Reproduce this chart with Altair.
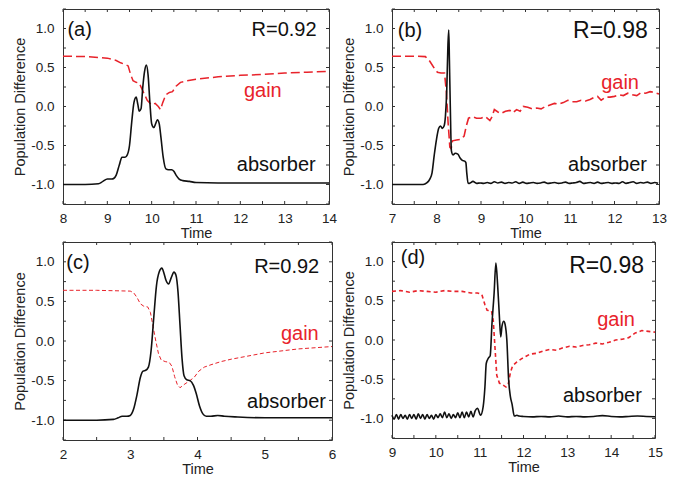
import altair as alt
import pandas as pd

RED = "#e8232b"
FONT = "Liberation Sans"
INK = "#111111"

# ---------------- Panel (a) ----------------
a_abs_t = [8.0, 8.5, 8.8, 8.9, 9.0, 9.1, 9.15, 9.2, 9.27, 9.33, 9.4, 9.45, 9.5, 9.55, 9.6, 9.65,
           9.69, 9.72, 9.76, 9.8, 9.84, 9.88, 9.92, 9.96, 10.0, 10.05, 10.09, 10.13, 10.17, 10.21,
           10.26, 10.32, 10.38, 10.45, 10.5, 10.55, 10.62, 10.7, 10.85, 11.0, 11.5, 12.0, 13.0, 14.0]
a_abs_v = [-1.0, -1.0, -0.99, -0.96, -0.93, -0.93, -0.92, -0.88, -0.75, -0.65, -0.65, -0.62, -0.5,
           -0.2, 0.05, 0.12, 0.02, -0.06, -0.03, 0.25, 0.45, 0.53, 0.4, 0.05, -0.22, -0.27, -0.22,
           -0.17, -0.22, -0.40, -0.65, -0.80, -0.81, -0.81, -0.83, -0.88, -0.93, -0.95, -0.96,
           -0.975, -0.98, -0.98, -0.98, -0.98]
a_gain_t = [8.0, 8.5, 9.0, 9.2, 9.3, 9.4, 9.47, 9.52, 9.58, 9.65, 9.72, 9.8, 9.9, 10.0, 10.08,
            10.15, 10.2, 10.25, 10.32, 10.4, 10.47, 10.55, 10.65, 10.8, 11.0, 11.5, 12.0, 12.5,
            13.0, 13.5, 14.0]
a_gain_v = [0.645, 0.64, 0.62, 0.59, 0.56, 0.54, 0.52, 0.42, 0.33, 0.31, 0.30, 0.20, 0.08, 0.02,
            0.04, 0.0, -0.04, 0.05, 0.15, 0.18, 0.19, 0.26, 0.31, 0.33, 0.35, 0.38, 0.40, 0.41,
            0.43, 0.44, 0.45]

# ---------------- Panel (b) ----------------
b_abs_t = [7.0, 7.7, 7.78, 7.85, 7.9, 7.95, 8.0, 8.05, 8.09, 8.13, 8.17, 8.2, 8.23, 8.255, 8.275,
           8.29, 8.31, 8.335, 8.37, 8.42, 8.48, 8.53, 8.58, 8.63, 8.66, 8.68, 8.71,
           8.74, 8.82, 8.90, 8.98, 9.06, 9.14, 9.22, 9.30, 9.38, 9.46, 9.54, 9.62, 9.70, 9.78,
           9.86, 9.94, 10.02, 10.10, 10.18, 10.26, 10.34, 10.42, 10.50, 10.58, 10.66, 10.74,
           10.82, 10.90, 10.98, 11.06, 11.14, 11.22, 11.30, 11.38, 11.46, 11.54, 11.62, 11.70,
           11.78, 11.86, 11.94, 12.02, 12.10, 12.18, 12.26, 12.34, 12.42, 12.50, 12.58, 12.66,
           12.74, 12.82, 12.90, 12.98]
b_abs_v = [-1.0, -1.0, -0.98, -0.93, -0.85, -0.62, -0.42, -0.28, -0.25, -0.28, -0.25, -0.13, 0.2,
           0.75, 0.98, 0.6, 0.0, -0.57, -0.62, -0.60, -0.61, -0.66, -0.69, -0.70, -0.72, -0.85,
           -0.98,
           -0.985, -0.96, -0.985, -0.98, -0.985, -0.975, -0.985, -0.965, -0.98, -0.97, -0.985,
           -0.975, -0.98, -0.965, -0.985, -0.97, -0.985, -0.98, -0.975, -0.985, -0.98, -0.97,
           -0.985, -0.98, -0.975, -0.985, -0.98, -0.97, -0.985, -0.98, -0.975, -0.96, -0.985,
           -0.98, -0.975, -0.985, -0.97, -0.985, -0.98, -0.975, -0.985, -0.98, -0.985, -0.965,
           -0.985, -0.975, -0.965, -0.985, -0.975, -0.98, -0.97, -0.985, -0.975, -0.985]
b_gain_t = [7.0, 7.5, 7.75, 7.85, 7.95, 8.02, 8.1, 8.18, 8.22, 8.26, 8.3, 8.33, 8.36, 8.45, 8.55,
            8.62, 8.67, 8.72, 8.8, 8.9, 9.0, 9.1, 9.2, 9.25, 9.3, 9.38, 9.45, 9.55, 9.65, 9.72,
            9.8, 9.88, 9.95, 10.05, 10.15, 10.25, 10.35, 10.45, 10.55, 10.65, 10.75, 10.85,
            10.95, 11.05, 11.15, 11.25, 11.35, 11.45, 11.55, 11.62, 11.7, 11.8, 11.9, 12.0,
            12.1, 12.2, 12.3, 12.4, 12.5, 12.6, 12.7, 12.8, 12.9, 13.0]
b_gain_v = [0.645, 0.645, 0.64, 0.58, 0.49, 0.44, 0.43, 0.43, 0.2, -0.2, -0.52, -0.54, -0.44,
            -0.43, -0.42, -0.38, -0.25, -0.15, -0.13, -0.15, -0.15, -0.13, -0.18, -0.13, -0.04,
            -0.07, -0.09, -0.06, -0.05, -0.08, -0.04, -0.06, 0.0, -0.01, -0.03, -0.02, -0.03,
            0.0, 0.02, 0.04, 0.03, 0.05, 0.08, 0.06, 0.06, 0.08, 0.07, 0.09, 0.12, 0.13, 0.08,
            0.12, 0.12, 0.13, 0.15, 0.14, 0.17, 0.15, 0.14, 0.18, 0.17, 0.19, 0.18, 0.16]

# ---------------- Panel (c) ----------------
c_abs_t = [2.0, 2.5, 2.75, 2.82, 2.88, 2.95, 3.0, 3.05, 3.1, 3.15, 3.19, 3.23, 3.27, 3.31, 3.35,
           3.39, 3.43, 3.47, 3.5, 3.53, 3.57, 3.61, 3.65, 3.68, 3.71, 3.74, 3.77, 3.8, 3.84,
           3.89, 3.94, 3.98, 4.03, 4.08, 4.13, 4.2, 4.3, 4.4, 4.6, 5.0, 5.5, 6.0]
c_abs_v = [-1.0, -1.0, -0.99, -0.97, -0.95, -0.95, -0.94, -0.86, -0.68, -0.46, -0.38, -0.37,
           -0.33, -0.12, 0.30, 0.70, 0.87, 0.92, 0.86, 0.77, 0.72, 0.80, 0.87, 0.83, 0.62, 0.20,
           -0.22, -0.44, -0.49, -0.50, -0.56, -0.66, -0.82, -0.92, -0.95, -0.95, -0.94, -0.95,
           -0.96, -0.97, -0.97, -0.97]
c_gain_t = [2.0, 2.5, 3.0, 3.05, 3.1, 3.15, 3.2, 3.26, 3.3, 3.34, 3.38, 3.42, 3.46, 3.52, 3.58,
            3.62, 3.66, 3.7, 3.74, 3.8, 3.87, 3.95, 4.02, 4.1, 4.2, 4.35, 4.5, 4.75, 5.0, 5.5,
            6.0]
c_gain_v = [0.64, 0.64, 0.63, 0.61, 0.55, 0.47, 0.44, 0.43, 0.36, 0.18, 0.0, -0.16, -0.24, -0.26,
            -0.27, -0.32, -0.45, -0.55, -0.59, -0.55, -0.51, -0.46, -0.38, -0.33, -0.30, -0.26,
            -0.23, -0.19, -0.15, -0.10, -0.07]

# ---------------- Panel (d) ----------------
d_abs_t = [9.0, 9.05, 9.1, 9.15, 9.2, 9.25, 9.3, 9.35, 9.4, 9.45, 9.5, 9.55, 9.6, 9.65, 9.7,
           9.75, 9.8, 9.85, 9.9, 9.95, 10.0, 10.05, 10.1, 10.15, 10.2, 10.25, 10.3, 10.35, 10.4,
           10.45, 10.5, 10.55, 10.6, 10.65, 10.7, 10.75, 10.8, 10.85, 10.9, 10.95,
           11.02, 11.08, 11.12, 11.15, 11.2, 11.24, 11.28, 11.33, 11.37, 11.41, 11.45, 11.48,
           11.51, 11.55, 11.58, 11.62, 11.66, 11.7, 11.74, 11.79, 11.85, 11.9,
           12.0, 12.2, 12.4, 12.6, 12.8, 13.0, 13.2, 13.4, 13.6, 13.8, 14.0, 14.2, 14.4, 14.6,
           14.8, 15.0]
d_abs_v = [-0.96, -1.01, -0.95, -1.01, -0.95, -1.0, -0.96, -1.01, -0.95, -1.0, -0.95, -1.01, -0.94,
           -1.0, -0.95, -1.01, -0.95, -1.0, -0.96, -1.01, -0.95, -0.99, -0.94, -0.99, -0.92,
           -0.99, -0.94, -1.0, -0.95, -0.99, -0.93, -0.99, -0.92, -0.99, -0.92, -0.98, -0.91,
           -0.98, -0.90, -0.87,
           -0.96, -0.85, -0.6, -0.30, -0.23, -0.2, 0.2, 0.6, 0.98, 0.7, 0.3, 0.04, 0.18, 0.24,
           0.2, 0.0, -0.5, -0.72, -0.82, -0.97, -0.96, -0.97,
           -0.975, -0.98, -0.975, -0.98, -0.97, -0.98, -0.975, -0.98, -0.975, -0.965, -0.975,
           -0.98, -0.975, -0.97, -0.975, -0.98]
d_gain_t = [9.0, 9.2, 9.4, 9.6, 9.8, 10.0, 10.2, 10.4, 10.6, 10.8, 10.95, 11.05, 11.12, 11.17,
            11.27, 11.31, 11.35, 11.39, 11.45, 11.52, 11.6, 11.65, 11.7, 11.75, 11.85, 11.95,
            12.05, 12.15, 12.3, 12.45, 12.6, 12.75, 12.9, 13.05, 13.2, 13.35, 13.5, 13.65, 13.8,
            13.95, 14.1, 14.25, 14.4, 14.55, 14.7, 14.85, 15.0]
d_gain_v = [0.62, 0.63, 0.61, 0.63, 0.62, 0.61, 0.63, 0.62, 0.62, 0.60, 0.60, 0.58, 0.45, 0.38,
            0.37, 0.25, -0.1, -0.45, -0.55, -0.57, -0.60, -0.57, -0.42, -0.33, -0.28, -0.24,
            -0.21, -0.18, -0.17, -0.14, -0.12, -0.13, -0.10, -0.08, -0.09, -0.07, -0.06, -0.04,
            -0.05, -0.03, 0.0, 0.01, 0.03, 0.09, 0.12, 0.11, 0.10]

# tick positions
y_labels = [-1.0, -0.5, 0.0, 0.5, 1.0]
y_ticks = [-1.25, -1.0, -0.75, -0.5, -0.25, 0.0, 0.25, 0.5, 0.75, 1.0, 1.25]
a_xlabels = [8, 9, 10, 11, 12, 13, 14]
b_xlabels = [7, 8, 9, 10, 11, 12, 13]
c_xlabels = [2, 3, 4, 5, 6]
d_xlabels = [9, 10, 11, 12, 13, 14, 15]


def half_steps(labels):
    out = []
    for i, v in enumerate(labels):
        out.append(v)
        if i < len(labels) - 1:
            out.append(v + 0.5)
    return out


def panel(xlabels, abs_t, abs_v, gain_t, gain_v, dash, gain_w, ann, w, h):
    lo, hi = xlabels[0], xlabels[-1]
    xs = alt.Scale(domain=[lo, hi], nice=False, zero=False)
    ys = alt.Scale(domain=[-1.25, 1.25], nice=False, zero=False)
    x_enc = alt.X("t:Q", scale=xs, axis=alt.Axis(values=xlabels, title="Time", format="d"))
    y_enc = alt.Y("v:Q", scale=ys, axis=alt.Axis(
        values=y_labels, title="Population Difference",
        labelExpr="replace(format(datum.value, '.1f'), '\u2212', '-')"))

    abs_df = pd.DataFrame({"t": abs_t, "v": abs_v})
    gain_df = pd.DataFrame({"t": gain_t, "v": gain_v})
    absl = alt.Chart(abs_df).mark_line(color=INK, strokeWidth=1.6, interpolate="monotone").encode(
        x=x_enc, y=y_enc)
    gainl = alt.Chart(gain_df).mark_line(color=RED, strokeWidth=gain_w, strokeDash=dash).encode(
        x=x_enc, y=y_enc)

    xt = pd.DataFrame({"t": half_steps(xlabels)})
    yt = pd.DataFrame({"v": y_ticks})
    tick_col = "#333333"
    tb = alt.Chart(xt).mark_rule(color=tick_col).encode(x=x_enc, y=alt.value(h), y2=alt.value(h - 3))
    tt = alt.Chart(xt).mark_rule(color=tick_col).encode(x=x_enc, y=alt.value(0), y2=alt.value(3))
    tl = alt.Chart(yt).mark_rule(color=tick_col).encode(y=y_enc, x=alt.value(0), x2=alt.value(3))
    tr = alt.Chart(yt).mark_rule(color=tick_col).encode(y=y_enc, x=alt.value(w), x2=alt.value(w - 3))

    layers = [tb, tt, tl, tr, gainl, absl]
    for (txt, tx, ty, align, size, col) in ann:
        df = pd.DataFrame({"t": [tx], "v": [ty], "s": [txt]})
        layers.append(alt.Chart(df).mark_text(align=align, baseline="middle", fontSize=size,
                                              font=FONT, color=col).encode(
            x=x_enc, y=y_enc, text="s:N"))
    return alt.layer(*layers).properties(width=w, height=h)


a_ann = [("(a)", 8.1, 0.98, "left", 20, INK), ("R=0.92", 13.72, 0.98, "right", 20, INK),
         ("gain", 12.08, 0.2, "left", 20, RED), ("absorber", 13.7, -0.75, "right", 20, INK)]
b_ann = [("(b)", 7.13, 0.97, "left", 20, INK), ("R=0.98", 12.75, 0.97, "right", 23, INK),
         ("gain", 11.7, 0.3, "left", 20, RED), ("absorber", 12.73, -0.75, "right", 20, INK)]
c_ann = [("(c)", 2.05, 0.99, "left", 20, INK), ("R=0.92", 5.81, 0.94, "right", 20, INK),
         ("gain", 5.24, 0.09, "left", 20, RED), ("absorber", 5.91, -0.77, "right", 20, INK)]
d_ann = [("(d)", 9.2, 1.04, "left", 20, INK), ("R=0.98", 14.75, 0.95, "right", 23, INK),
         ("gain", 13.68, 0.26, "left", 20, RED), ("absorber", 14.7, -0.72, "right", 20, INK)]

pa = panel(a_xlabels, a_abs_t, a_abs_v, a_gain_t, a_gain_v, [9, 4], 1.5, a_ann, 266, 195)
pb = panel(b_xlabels, b_abs_t, b_abs_v, b_gain_t, b_gain_v, [9, 4], 1.6, b_ann, 267, 195)
pc = panel(c_xlabels, c_abs_t, c_abs_v, c_gain_t, c_gain_v, [4, 2.5], 1.0, c_ann, 269, 198)
pd_ = panel(d_xlabels, d_abs_t, d_abs_v, d_gain_t, d_gain_v, [4, 3], 1.6, d_ann, 263, 196)

row1 = alt.hconcat(pa, pb, spacing=3)
row2 = alt.hconcat(pc, pd_, spacing=4)
chart = alt.vconcat(row1, row2, spacing=0).properties(
    padding={"left": 4, "top": 0, "right": 0, "bottom": 0}
).configure_view(stroke="#333333", strokeWidth=1).configure_axis(
    domain=False, ticks=False, tickSize=0, grid=False,
    labelFont=FONT, labelFontSize=13.5, labelColor="#222222", labelFlush=False,
    titleFont=FONT, titleFontSize=14.5, titleFontWeight="normal", titleColor="#222222"
).configure_axisX(labelPadding=7, titlePadding=2).configure_axisY(labelPadding=9, titlePadding=3)

chart.save("out.html", embed_options={"renderer": "svg", "actions": False})
